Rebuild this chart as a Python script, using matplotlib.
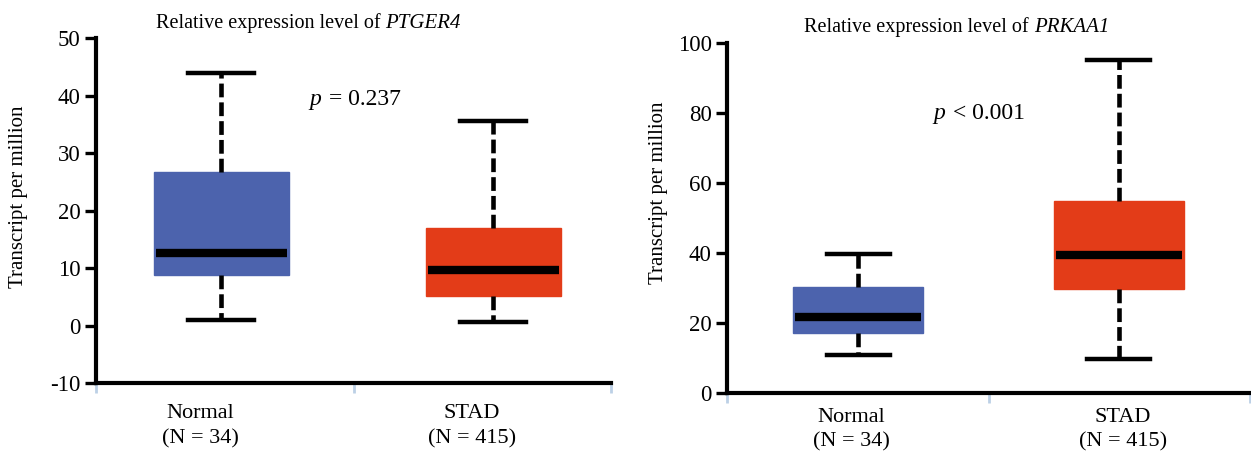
import numpy as np
import matplotlib
matplotlib.use("Agg")
import matplotlib.pyplot as plt

plt.rcParams['font.family'] = ['Liberation Serif', 'DejaVu Serif']

# data
groups = ["Normal", "STAD"]
n_counts = [34, 415]
colors = ["#4c63ad", "#e33c18"]

ptger4_lo = [1.0, 0.6]
ptger4_q1 = [8.9, 5.1]
ptger4_med = [12.7, 9.7]
ptger4_q3 = [26.7, 16.9]
ptger4_hi = [44.0, 35.5]

prkaa1_lo = [10.7, 9.6]
prkaa1_q1 = [17.0, 29.7]
prkaa1_med = [21.8, 39.4]
prkaa1_q3 = [30.3, 55.0]
prkaa1_hi = [39.7, 95.2]

W, H = 1251, 458
fig = plt.figure(figsize=(W / 100, H / 100), dpi=100)


def px(x, y):
    return x / W, 1 - y / H


def panel(rect, lo, q1, med, q3, hi, pos, width, capw, lab_x, ylim, yticks, xpad):
    ax = fig.add_axes(rect)
    stats = []
    for i in range(len(groups)):
        stats.append(dict(med=med[i], q1=q1[i], q3=q3[i], whislo=lo[i], whishi=hi[i], fliers=[]))
    bp = ax.bxp(stats, positions=pos, widths=width, capwidths=capw, patch_artist=True,
                showfliers=False,
                medianprops=dict(color='black', linewidth=6, solid_capstyle='butt'),
                whiskerprops=dict(color='black', linewidth=3.3, linestyle=(0, (3.0, 1.1))),
                capprops=dict(color='black', linewidth=3.2))
    for patch, c in zip(bp['boxes'], colors):
        patch.set_facecolor(c)
        patch.set_edgecolor(c)
        patch.set_linewidth(1)
    # median line a bit shorter than the box
    for m, p in zip(bp['medians'], pos):
        m.set_xdata([p - width / 2 * 0.97, p + width / 2 * 0.97])

    ax.set_xlim(0, 2)
    ax.set_ylim(*ylim)
    ax.set_yticks(yticks)
    ax.set_yticklabels([str(t) for t in yticks])
    ax.set_xticks(lab_x)
    ax.set_xticklabels(["%s\n(N = %d)" % (g, n) for g, n in zip(groups, n_counts)],
                       fontsize=16, linespacing=1.4)
    ax.set_xticks([0, 1, 2], minor=True)
    ax.tick_params(axis='x', which='major', length=0, pad=xpad)
    ax.tick_params(axis='x', which='minor', length=7, width=2, color='#bcd0e6', direction='out')
    ax.tick_params(axis='y', length=8, width=2.4, labelsize=16.5, pad=3, direction='out')
    for s in ['top', 'right']:
        ax.spines[s].set_visible(False)
    for s in ['left', 'bottom']:
        ax.spines[s].set_linewidth(3)
    ax.spines['left'].set_zorder(3)
    return ax


# left panel: PTGER4
l, b = px(96, 383.3)
ax1 = panel([l, b, 515 / W, 345.3 / H], ptger4_lo, ptger4_q1, ptger4_med, ptger4_q3, ptger4_hi,
            [0.487, 1.542], 0.524, 0.256, [0.404, 1.46], (-10, 50), [-10, 0, 10, 20, 30, 40, 50], 15)
ax1.text(0.83, 39.3, "p", fontsize=17, style='italic', ha='left', va='center')
ax1.text(0.905, 39.3, "= 0.237", fontsize=17, ha='left', va='center')

# right panel: PRKAA1
l, b = px(727, 392.7)
ax2 = panel([l, b, 523 / W, 349.4 / H], prkaa1_lo, prkaa1_q1, prkaa1_med, prkaa1_q3, prkaa1_hi,
            [0.501, 1.499], 0.497, 0.241, [0.474, 1.513], (0, 100), [0, 20, 40, 60, 80, 100], 11)
ax2.text(0.79, 80, "p", fontsize=17, style='italic', ha='left', va='center')
ax2.text(0.864, 80, "< 0.001", fontsize=17, ha='left', va='center')

# titles: plain part + italic gene name
fig.text(*px(381, 23), "Relative expression level of", fontsize=14.5, ha='right', va='center')
fig.text(*px(385, 23), "PTGER4", fontsize=15, style='italic', ha='left', va='center')
fig.text(*px(1029, 27), "Relative expression level of", fontsize=14.5, ha='right', va='center')
fig.text(*px(1034, 27), "PRKAA1", fontsize=15, style='italic', ha='left', va='center')

fig.text(*px(19, 197), "Transcript per million", fontsize=15, rotation=90, ha='center', va='center')
fig.text(*px(658, 193), "Transcript per million", fontsize=15, rotation=90, ha='center', va='center')

fig.savefig("out.png", dpi=100)
